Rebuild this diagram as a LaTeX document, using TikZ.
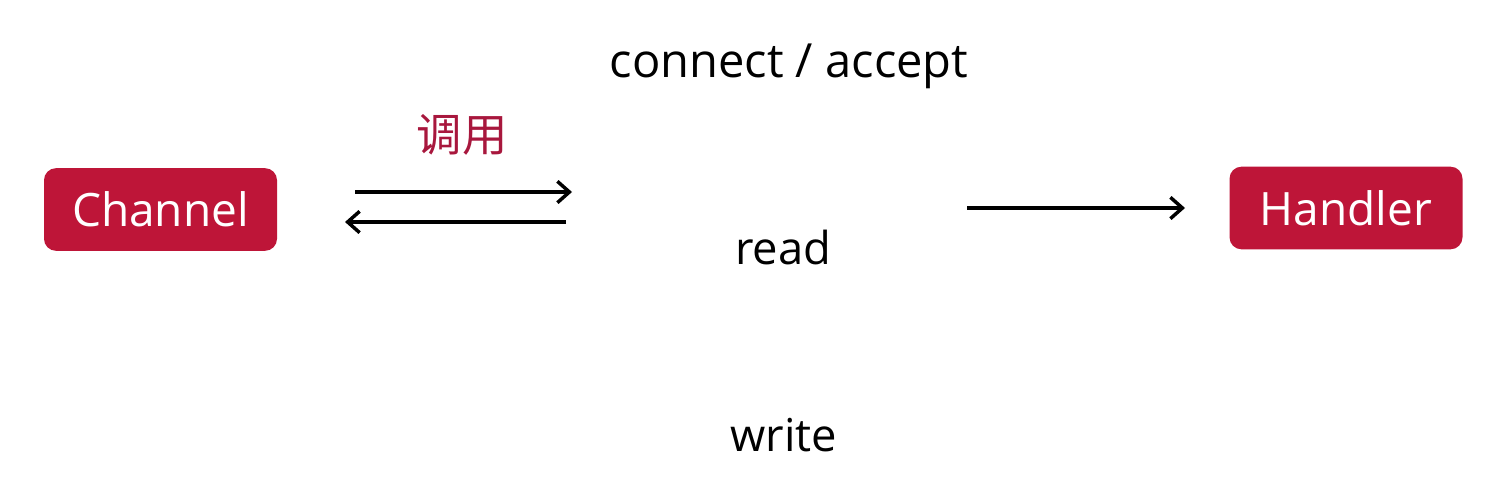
\documentclass[tikz,border=0pt]{standalone}
\usepackage{fontspec}
\setmainfont{Open Sans}
\newfontfamily\cjk{Noto Sans CJK SC}
\usetikzlibrary{arrows.meta}
\definecolor{boxred}{HTML}{BE1538}
\definecolor{labred}{HTML}{A8173D}
\tikzset{
  redbox/.style={fill=boxred, rounded corners=9pt, text=white, inner sep=0pt,
    minimum width=174.75pt, minimum height=62pt, font=\fontsize{34.5}{41}\selectfont},
  plain/.style={text=black, inner sep=0pt, font=\fontsize{34}{41}\selectfont},
  conn/.style={line width=2.6pt, -{Straight Barb[length=9pt,width=16pt,line width=2.6pt]}}
}
\begin{document}
\begin{tikzpicture}[x=0.75pt,y=-0.75pt]
\useasboundingbox (0,0) rectangle (1512,502);
\node[redbox] (channel) at (160.5,209.5) {Channel};
\node[redbox] (handler) at (1346,208) {Handler};
\node[plain, font=\fontsize{35.3}{42}\selectfont] (conn) at (789,66) {connect / accept};
\node[plain] (read) at (783,247) {read};
\node[plain] (write) at (784,435) {write};
\node[text=labred, inner sep=0pt, font=\cjk\fontsize{34}{40}\selectfont] (call) at (462,135) {调用};
\coordinate (a1s) at (355,192);
\coordinate (a1e) at (572,192);
\coordinate (a2s) at (566,222);
\coordinate (a2e) at (345,222);
\coordinate (a3s) at (967,208);
\coordinate (a3e) at (1185,208);
\draw[conn] (a1s) -- (a1e);
\draw[conn] (a2s) -- (a2e);
\draw[conn] (a3s) -- (a3e);
\end{tikzpicture}
\end{document}
